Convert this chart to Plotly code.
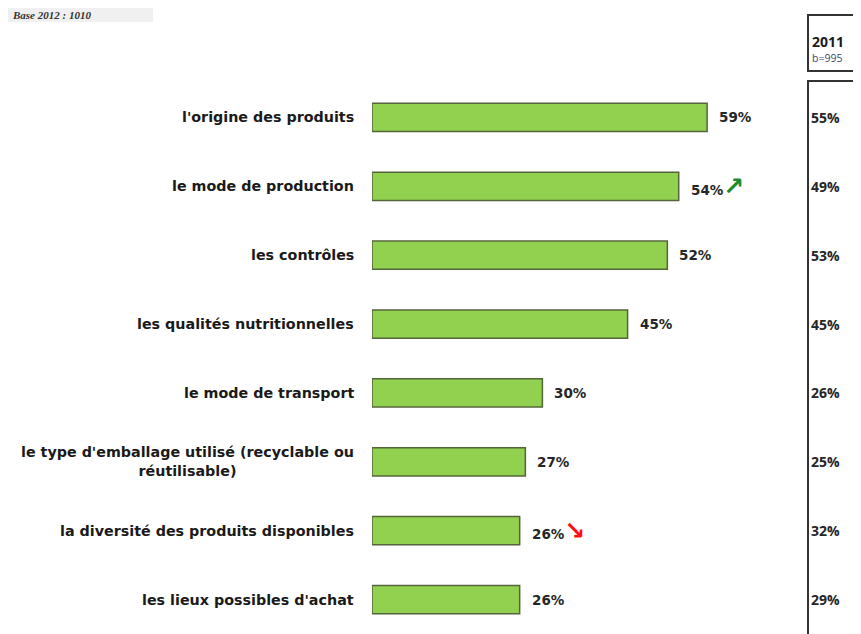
import plotly.graph_objects as go

categories = [
    "l'origine des produits",
    "le mode de production",
    "les contrôles",
    "les qualités nutritionnelles",
    "le mode de transport",
    "le type d'emballage utilisé (recyclable ou<br>réutilisable)",
    "la diversité des produits disponibles",
    "les lieux possibles d'achat",
]
values_2012 = [59, 54, 52, 45, 30, 27, 26, 26]
values_2011 = [55, 49, 53, 45, 26, 25, 32, 29]
trends = ["", "up", "", "", "", "", "down", ""]
header_year = "2011"
header_base = "b=995"
base_note = "Base 2012 : 1010"

OFF = 8  # default page body margin
W, H = 861 - OFF, 634 - OFF
L, R, T, B = 372 - OFF, 0, 83 - OFF, 0
pw, ph = W - L - R, H - T - B

def px(xp):
    return (xp - OFF - L) / pw

def py(yp):
    return (H - B - (yp - OFF)) / ph

fig = go.Figure()
fig.add_trace(go.Bar(
    x=values_2012, y=categories, orientation="h",
    width=0.41,
    marker=dict(color="#92D050", line=dict(color="#55653A", width=1.5)),
    hoverinfo="skip",
))

LABF = "DejaVu Sans"
ann = []
for i, (c, v, v11, tr) in enumerate(zip(categories, values_2012, values_2011, trends)):
    ann.append(dict(x=0, xref="paper", y=c, yref="y", text=f"<b>{c}</b>",
                    xanchor="right", yanchor="middle", align="center", xshift=-16,
                    showarrow=False, font=dict(family=LABF, size=14.3, color="#1a1a1a")))
    txt = f"<b>{v}%</b>"
    if tr == "up":
        txt += "<span style='color:#1E8C2E;font-size:25px'><b>↗</b></span>"
    elif tr == "down":
        txt += "<span style='color:#FF1010;font-size:25px'><b>↘</b></span>"
    ann.append(dict(x=v, xref="x", y=c, yref="y", text=txt,
                    xanchor="left", yanchor="middle", xshift=10,
                    showarrow=False, font=dict(family=LABF, size=13.5, color="#262626")))
    ann.append(dict(x=px(809), xref="paper", y=c, yref="y", text=f"<b>{v11}%</b>",
                    xanchor="left", yanchor="middle",
                    showarrow=False, font=dict(family="Open Sans", size=14, color="#262626")))

ann.append(dict(x=px(810), xref="paper", y=py(42), yref="paper", text=f"<b>{header_year}</b>",
                xanchor="left", yanchor="middle", showarrow=False,
                font=dict(family="Open Sans", size=14, color="#1a1a1a")))
ann.append(dict(x=px(810), xref="paper", y=py(58), yref="paper", text=header_base,
                xanchor="left", yanchor="middle", showarrow=False,
                font=dict(family="Open Sans", size=10.5, color="#3B4A6B")))
ann.append(dict(x=px(OFF + 2), xref="paper", y=py(OFF - 1), yref="paper", text=f"<b><i>{base_note}</i></b>",
                xanchor="left", yanchor="top", showarrow=False,
                font=dict(family="Liberation Serif", size=11, color="#333333")))

shapes = [
    dict(type="rect", xref="paper", yref="paper", x0=px(OFF), x1=px(153), y0=py(22), y1=py(OFF),
         fillcolor="#F0F0F0", line=dict(width=0), layer="below"),
    dict(type="rect", xref="paper", yref="paper", x0=px(808), x1=px(880), y0=py(71), y1=py(15),
         fillcolor="rgba(0,0,0,0)", line=dict(color="#333333", width=2)),
    dict(type="rect", xref="paper", yref="paper", x0=px(808), x1=px(880), y0=py(650), y1=py(81),
         fillcolor="rgba(0,0,0,0)", line=dict(color="#333333", width=2)),
]

fig.update_layout(
    width=W, height=H,
    margin=dict(l=L, r=R, t=T, b=B, pad=0),
    paper_bgcolor="white", plot_bgcolor="white",
    showlegend=False,
    xaxis=dict(range=[0, pw / 5.68], visible=False, fixedrange=True),
    yaxis=dict(autorange="reversed", showticklabels=False, showgrid=False,
               zeroline=False, showline=False, ticks="", fixedrange=True),
    annotations=ann, shapes=shapes,
)
fig.update_yaxes(categoryorder="array", categoryarray=categories)

fig.write_html("out.html", config={"displayModeBar": False})
